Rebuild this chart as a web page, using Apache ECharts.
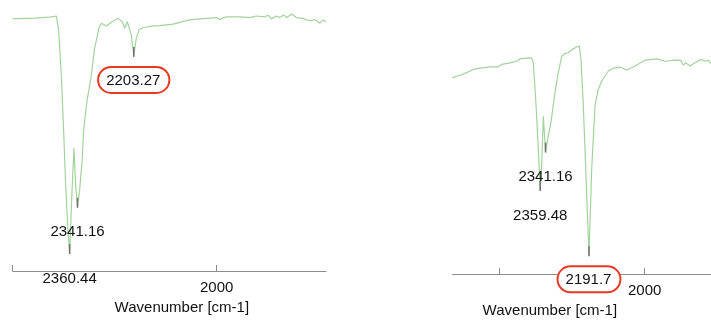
<!DOCTYPE html>
<html>
<head>
<meta charset="utf-8">
<script src="https://cdn.jsdelivr.net/npm/echarts@6/dist/echarts.min.js"></script>
<style>
html,body{margin:0;padding:0;background:#fff;}
#chart{width:711px;height:323px;}
</style>
</head>
<body>
<div id="chart"></div>
<script>
// ---- Left spectrum ----
const leftWavenumber = [2500, 2483, 2446, 2409.5, 2393, 2387.4, 2380.8, 2375.2, 2370.2, 2364.6, 2360.44, 2355.5, 2349.9, 2345.7, 2341.16, 2335.9, 2329.8, 2326.1, 2317.5, 2307.2, 2299.1, 2288.6, 2282.7, 2270.5, 2258.2, 2242, 2231.2, 2225.6, 2219, 2215, 2209.2, 2203.27, 2196.9, 2190.5, 2180.7, 2156.2, 2139.8, 2107.2, 2066.2, 2025.3, 2000.7, 1992.6, 1976.2, 1943.6, 1919.1, 1902.7, 1882.3, 1874.2, 1865.9, 1853.6, 1845.5, 1835.7, 1827.6, 1816.8, 1804.6, 1788.4, 1780, 1767.8, 1759.7, 1747.4, 1739.4, 1732];
const leftTransmittance = [96.7, 96.7, 96.9, 97.3, 97.7, 92.3, 75.1, 54.0, 33.0, 15.7, 6.9, 27.2, 47.1, 33.0, 24.6, 31.0, 42.5, 54.0, 65.5, 75.1, 85.4, 93.1, 94.9, 93.9, 95.3, 96.8, 95.5, 93.0, 95.5, 96.2, 90.4, 82.4, 89.3, 92.3, 93.2, 93.9, 94.0, 94.6, 96.2, 96.8, 97.1, 96.4, 97.4, 97.4, 97.1, 97.7, 97.4, 98.0, 96.6, 97.7, 97.1, 98.1, 97.1, 98.5, 97.1, 96.8, 96.2, 95.8, 96.4, 94.9, 96.2, 95.5];
const leftPeakWavenumber = [2360.44, 2341.16, 2203.27];
const leftPeakValue = [6.9, 24.6, 82.4];
const leftPeakLabel = ['2360.44', '2341.16', '2203.27'];
const leftHighlighted = [false, false, true];

// ---- Right spectrum ----
const rightWavenumber = [2660.5, 2635.4, 2612.3, 2589.6, 2572.4, 2532.2, 2503.6, 2491.9, 2463.4, 2440.3, 2429, 2400.4, 2388.7, 2383.2, 2375, 2366, 2359.48, 2354.3, 2348.8, 2341.16, 2331.6, 2322.3, 2308.6, 2297.2, 2285.5, 2274.2, 2262.8, 2251.1, 2233.9, 2225, 2219.1, 2211.2, 2203, 2191.7, 2182.3, 2171, 2159.6, 2147.9, 2136.6, 2125.2, 2102.2, 2085, 2061.9, 2033.4, 1999, 1958.7, 1930.2, 1895.8, 1875.1, 1867.2, 1859, 1844.2, 1827, 1806.3, 1792.6, 1781.2, 1772];
const rightTransmittance = [74.4, 75.3, 76.3, 77.5, 77.9, 78.5, 78.5, 79.4, 80.0, 80.6, 81.5, 81.9, 81.8, 80.0, 66.3, 47.6, 31.8, 41.9, 59.8, 46.4, 52.5, 57.6, 68.8, 76.3, 82.5, 83.5, 83.8, 85.0, 86.0, 86.3, 81.3, 63.8, 40.1, 7.1, 40.1, 63.8, 70.0, 73.1, 75.0, 76.9, 78.2, 78.4, 77.3, 78.8, 81.0, 81.5, 80.6, 81.0, 80.9, 79.1, 80.0, 78.8, 80.0, 81.3, 80.6, 80.9, 79.7];
const rightPeakWavenumber = [2359.48, 2341.16, 2191.7];
const rightPeakValue = [31.8, 46.4, 7.1];
const rightPeakLabel = ['2359.48', '2341.16', '2191.7'];
const rightHighlighted = [false, false, true];

// ---- Axes ----
const xTickValues = [2500, 2000];
const xTickLabels = [2000];
const xAxisTitle = 'Wavenumber [cm-1]';

const FONT = 'Liberation Sans, Arial, Helvetica, sans-serif';
const LINE_COLOR = '#a3d39c';
const TEXT_COLOR = '#111111';
const AXIS_COLOR = '#8c8c8c';
const RED = '#e63a22';

function pairs(xs, ys) { return xs.map((x, i) => [x, ys[i]]); }

function peakData(ws, vs, labels, hl) {
  return ws.map((w, i) => ({
    value: [w, vs[i]],
    name: labels[i],
    label: hl[i] ? {
      distance: 11,
      borderColor: RED,
      borderWidth: 2,
      borderRadius: 13,
      padding: [5, 8, 4, 7],
      backgroundColor: '#fff'
    } : { distance: 17 }
  }));
}

function xAxisFor(gridIndex, minV, maxV, namePad) {
  return {
    type: 'value', gridIndex, inverse: true, min: minV, max: maxV,
    splitLine: { show: false },
    axisLine: { show: true, onZero: false, lineStyle: { color: AXIS_COLOR, width: 1 } },
    axisTick: { show: true, inside: true, length: 6, customValues: xTickValues, lineStyle: { color: AXIS_COLOR } },
    axisLabel: { show: true, customValues: xTickLabels, formatter: v => String(v), margin: 9, color: TEXT_COLOR, fontSize: 15, fontFamily: FONT },
    name: xAxisTitle, nameLocation: 'middle', nameGap: 28,
    nameTextStyle: { color: TEXT_COLOR, fontSize: 15, fontFamily: FONT, padding: namePad }
  };
}

function yAxisFor(gridIndex) {
  return { type: 'value', gridIndex, min: 0, max: 100, show: false };
}

const peakLabelBase = {
  show: true, position: 'bottom', formatter: p => p.name,
  color: TEXT_COLOR, fontSize: 15, fontFamily: FONT
};

const option = {
  animation: false,
  backgroundColor: '#fff',
  grid: [
    { left: 12.7, top: 10, width: 313.3, height: 261 },
    { left: 452.7, top: 10, width: 258.3, height: 267 }
  ],
  xAxis: [
    xAxisFor(0, 1732, 2500, [0, 0, 0, 25]),
    xAxisFor(1, 1772, 2660.5, [0, 64, 0, 0])
  ],
  yAxis: [yAxisFor(0), yAxisFor(1)],
  series: [
    {
      type: 'line', xAxisIndex: 0, yAxisIndex: 0, data: pairs(leftWavenumber, leftTransmittance),
      showSymbol: false, lineStyle: { color: LINE_COLOR, width: 1.2 }, z: 2
    },
    {
      type: 'line', xAxisIndex: 1, yAxisIndex: 1, data: pairs(rightWavenumber, rightTransmittance),
      showSymbol: false, lineStyle: { color: LINE_COLOR, width: 1.2 }, z: 2
    },
    {
      type: 'scatter', xAxisIndex: 0, yAxisIndex: 0,
      data: peakData(leftPeakWavenumber, leftPeakValue, leftPeakLabel, leftHighlighted),
      symbol: 'rect', symbolSize: [1.5, 10], symbolOffset: [0, -4],
      itemStyle: { color: '#707070', opacity: 1 }, label: peakLabelBase, z: 3
    },
    {
      type: 'scatter', xAxisIndex: 1, yAxisIndex: 1,
      data: peakData(rightPeakWavenumber, rightPeakValue, rightPeakLabel, rightHighlighted),
      symbol: 'rect', symbolSize: [1.5, 10], symbolOffset: [0, -4],
      itemStyle: { color: '#707070', opacity: 1 }, label: peakLabelBase, z: 3
    }
  ]
};

const chart = echarts.init(document.getElementById('chart'), null, { renderer: 'canvas' });
chart.setOption(option);
</script>
</body>
</html>
